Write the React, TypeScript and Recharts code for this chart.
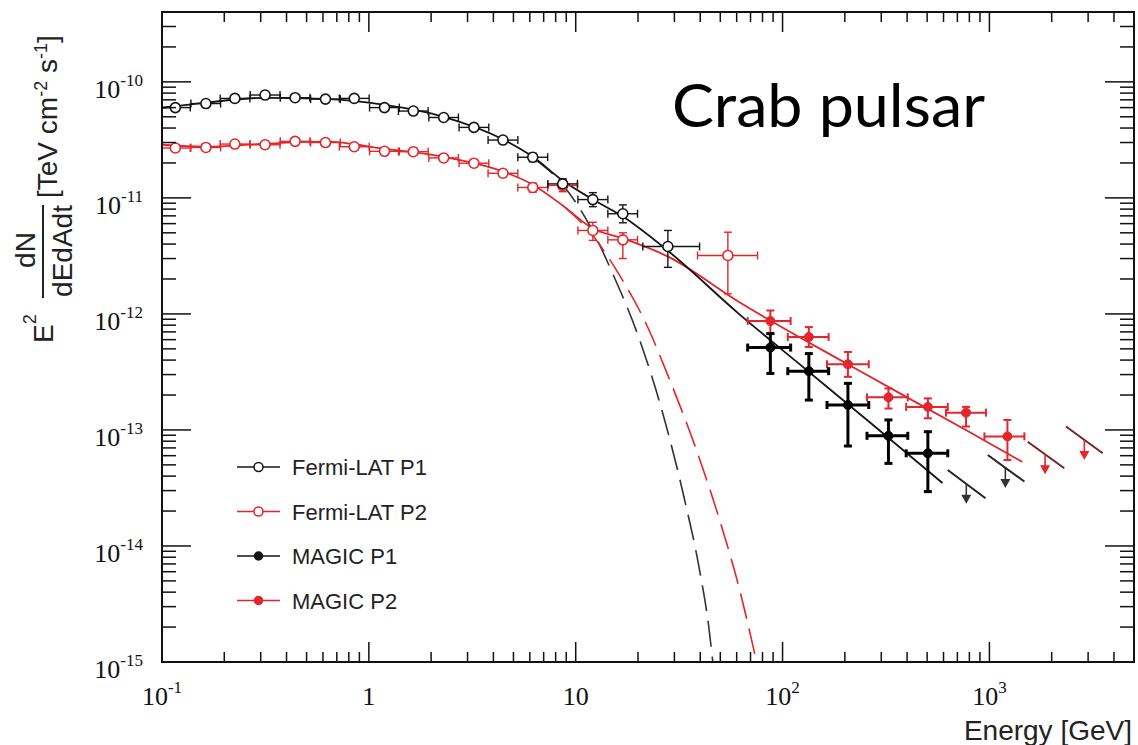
import React from 'react';
import { ComposedChart, XAxis, YAxis, Line, Scatter, ErrorBar } from 'recharts';

const W = 1138;
const H = 745;
const RED = '#e2262b';
const BLACK = '#151515';
const X_DOMAIN: [number, number] = [0.1, 5000];
const Y_DOMAIN: [number, number] = [1e-15, 4e-10];

// ---------- axis ticks ----------
const X_MAJOR = [0.1, 1, 10, 100, 1000];
const X_LABELS: [string, string][] = [['10', '-1'], ['1', ''], ['10', ''], ['10', '2'], ['10', '3']];
const Y_MAJOR = [1e-15, 1e-14, 1e-13, 1e-12, 1e-11, 1e-10];
const Y_LABELS: [string, string][] = [['10', '-15'], ['10', '-14'], ['10', '-13'], ['10', '-12'], ['10', '-11'], ['10', '-10']];
const MINOR_MULT = [2, 3, 4, 5, 6, 7, 8, 9];

// ---------- Fermi-LAT P1 (open black circles) ----------
const fermiP1E = [0.116, 0.163, 0.225, 0.315, 0.44, 0.617, 0.85, 1.19, 1.64, 2.3, 3.22, 4.45, 6.2, 8.65, 12.1, 16.9, 27.9];
const fermiP1Elo = [0.1, 0.138, 0.191, 0.267, 0.373, 0.523, 0.72, 1.008, 1.39, 1.95, 2.73, 3.77, 5.25, 7.33, 10.25, 14.3, 21.1];
const fermiP1Ehi = [0.137, 0.192, 0.266, 0.372, 0.519, 0.728, 1.003, 1.404, 1.935, 2.71, 3.8, 5.25, 7.32, 10.2, 14.3, 19.9, 39.7];
const fermiP1F = [6.0e-11, 6.5e-11, 7.2e-11, 7.7e-11, 7.3e-11, 7.1e-11, 7.2e-11, 6.0e-11, 5.6e-11, 4.93e-11, 4.05e-11, 3.15e-11, 2.24e-11, 1.32e-11, 9.67e-12, 7.3e-12, 3.81e-12];
const fermiP1Flo = [5.8e-11, 6.3e-11, 7.0e-11, 7.5e-11, 7.1e-11, 6.9e-11, 7.0e-11, 5.8e-11, 5.4e-11, 4.7e-11, 3.85e-11, 2.95e-11, 2.05e-11, 1.18e-11, 8.4e-12, 6.1e-12, 2.52e-12];
const fermiP1Fhi = [6.2e-11, 6.7e-11, 7.4e-11, 7.9e-11, 7.5e-11, 7.3e-11, 7.4e-11, 6.2e-11, 5.8e-11, 5.15e-11, 4.25e-11, 3.35e-11, 2.43e-11, 1.46e-11, 1.11e-11, 8.7e-12, 5.24e-12];

// ---------- Fermi-LAT P2 (open red circles) ----------
const fermiP2E = [0.116, 0.163, 0.225, 0.315, 0.44, 0.617, 0.85, 1.19, 1.64, 2.3, 3.22, 4.45, 6.2, 8.65, 12.1, 16.9, 54.4];
const fermiP2Elo = [0.1, 0.138, 0.191, 0.267, 0.373, 0.523, 0.72, 1.008, 1.39, 1.95, 2.73, 3.77, 5.25, 7.33, 10.25, 14.3, 38.8];
const fermiP2Ehi = [0.137, 0.192, 0.266, 0.372, 0.519, 0.728, 1.003, 1.404, 1.935, 2.71, 3.8, 5.25, 7.32, 10.2, 14.3, 19.9, 75.7];
const fermiP2F = [2.69e-11, 2.72e-11, 2.91e-11, 2.87e-11, 3.07e-11, 3.0e-11, 2.76e-11, 2.52e-11, 2.5e-11, 2.21e-11, 1.99e-11, 1.63e-11, 1.23e-11, 1.28e-11, 5.24e-12, 4.35e-12, 3.19e-12];
const fermiP2Flo = [2.6e-11, 2.63e-11, 2.82e-11, 2.78e-11, 2.97e-11, 2.9e-11, 2.66e-11, 2.42e-11, 2.4e-11, 2.1e-11, 1.88e-11, 1.52e-11, 1.12e-11, 1.13e-11, 4.3e-12, 3.0e-12, 1.49e-12];
const fermiP2Fhi = [2.78e-11, 2.81e-11, 3.0e-11, 2.96e-11, 3.17e-11, 3.1e-11, 2.86e-11, 2.62e-11, 2.6e-11, 2.32e-11, 2.1e-11, 1.74e-11, 1.34e-11, 1.43e-11, 6.16e-12, 5.0e-12, 5.06e-12];

// ---------- MAGIC P1 (filled black) ----------
const magicP1E = [87.3, 134, 207, 325, 504];
const magicP1Elo = [67.8, 106, 164, 256, 396];
const magicP1Ehi = [109.4, 167, 261, 403, 629];
const magicP1F = [5.13e-13, 3.21e-13, 1.64e-13, 8.9e-14, 6.29e-14];
const magicP1Flo = [3.07e-13, 1.81e-13, 7.27e-14, 5.15e-14, 2.94e-14];
const magicP1Fhi = [6.77e-13, 4.55e-13, 2.52e-13, 1.22e-13, 9.66e-14];

// ---------- MAGIC P2 (filled red) ----------
const magicP2E = [87.3, 134, 207, 325, 504, 771, 1222];
const magicP2Elo = [67.8, 106, 164, 256, 396, 617, 946];
const magicP2Ehi = [109.4, 167, 261, 403, 629, 962, 1476];
const magicP2F = [8.69e-13, 6.33e-13, 3.68e-13, 1.91e-13, 1.58e-13, 1.41e-13, 8.8e-14];
const magicP2Flo = [6.8e-13, 5.19e-13, 2.87e-13, 1.53e-13, 1.26e-13, 1.07e-13, 5.5e-14];
const magicP2Fhi = [1.07e-12, 7.7e-13, 4.7e-13, 2.28e-13, 1.87e-13, 1.58e-13, 1.22e-13];

// ---------- upper limits: segment ends and arrow anchor ----------
const ulP1SegE = [[629, 957], [982, 1476]];
const ulP1SegF = [[4.52e-14, 2.58e-14], [6.08e-14, 3.59e-14]];
const ulP1ArrowE = [773, 1194];
const ulP1ArrowF = [3.43e-14, 4.71e-14];
const ulP2SegE = [[1531, 2302], [2345, 3530]];
const ulP2SegF = [[7.92e-14, 4.67e-14], [1.07e-13, 6.3e-14]];
const ulP2ArrowE = [1858, 2877];
const ulP2ArrowF = [6.17e-14, 8.18e-14];

// ---------- fitted curves ----------
const fitP1E = [0.1, 0.161, 0.3145, 0.613, 1.195, 2.3, 4.49, 6.2, 8.65, 12.1, 16.9, 27.8, 61.9, 120.8, 263, 593];
const fitP1F = [5.98e-11, 6.6e-11, 7.29e-11, 7.14e-11, 6.34e-11, 5.0e-11, 3.17e-11, 2.26e-11, 1.41e-11, 9.67e-12, 6.9e-12, 3.52e-12, 9.92e-13, 3.69e-13, 1.17e-13, 3.49e-14];
const fitP2E = [0.1, 0.161, 0.3145, 0.613, 1.195, 2.3, 4.49, 6.2, 8.65, 12.1, 16.9, 27.8, 61.9, 210.7, 800.6, 1443];
const fitP2F = [2.87e-11, 2.76e-11, 2.93e-11, 3.05e-11, 2.65e-11, 2.26e-11, 1.68e-11, 1.3e-11, 8.6e-12, 5.44e-12, 4.47e-12, 3.13e-12, 1.26e-12, 3.61e-13, 9.6e-14, 5.3e-14];
const cutP1E = [6.2, 8.65, 11.69, 15.09, 20.4, 26.9, 33.6, 39.7, 44.0, 46.0];
const cutP1F = [2.22e-11, 1.3e-11, 5.78e-12, 2.23e-12, 5.93e-13, 1.22e-13, 2.5e-14, 6.2e-15, 2.0e-15, 1.0e-15];
const cutP2E = [8.65, 12.1, 16.3, 21.5, 28.5, 37.6, 49.6, 62.0, 74.9];
const cutP2F = [8.6e-12, 4.74e-12, 2.15e-12, 8.8e-13, 2.69e-13, 7.4e-14, 1.68e-14, 4.2e-15, 1.0e-15];

// ---------- legend ----------
const LEGEND = [
  { label: 'Fermi-LAT P1', color: BLACK, open: true },
  { label: 'Fermi-LAT P2', color: RED, open: true },
  { label: 'MAGIC P1', color: BLACK, open: false },
  { label: 'MAGIC P2', color: RED, open: false },
];

// ---------- builders ----------
const pts = (E: number[], Elo: number[], Ehi: number[], F: number[], Flo: number[], Fhi: number[]) =>
  E.map((e, i) => ({ x: e, y: F[i], ex: [e - Elo[i], Ehi[i] - e], ey: [F[i] - Flo[i], Fhi[i] - F[i]] }));
const curve = (E: number[], F: number[]) => E.map((x, i) => ({ x, y: F[i] }));

const fermiP1 = pts(fermiP1E, fermiP1Elo, fermiP1Ehi, fermiP1F, fermiP1Flo, fermiP1Fhi);
const fermiP2 = pts(fermiP2E, fermiP2Elo, fermiP2Ehi, fermiP2F, fermiP2Flo, fermiP2Fhi);
const magicP1 = pts(magicP1E, magicP1Elo, magicP1Ehi, magicP1F, magicP1Flo, magicP1Fhi);
const magicP2 = pts(magicP2E, magicP2Elo, magicP2Ehi, magicP2F, magicP2Flo, magicP2Fhi);

const decadeTicks = (majors: number[], max: number) => {
  const out: number[] = [];
  majors.forEach((m) => {
    out.push(m);
    MINOR_MULT.forEach((k) => {
      const v = m * k;
      if (v < max * 0.999) out.push(v);
    });
  });
  return out;
};
const xTicks = decadeTicks(X_MAJOR, X_DOMAIN[1]);
const yTicks = decadeTicks(Y_MAJOR, Y_DOMAIN[1]);

const majorIndex = (majors: number[], v: number) =>
  majors.findIndex((m) => Math.abs(Math.log10(m) - Math.log10(v)) < 1e-6);

const AX = '#111';
const SERIF = '"Liberation Serif", "Times New Roman", serif';
const SANS = '"Liberation Sans", Arial, Helvetica, sans-serif';

const BottomTick = (p: any) => {
  const { x, y, payload } = p;
  const idx = majorIndex(X_MAJOR, payload.value);
  const major = idx >= 0;
  return (
    <g>
      <line x1={x} x2={x} y1={y} y2={y - (major ? 20 : 10)} stroke={AX} strokeWidth={1.5} />
      {major && (
        <text x={x} y={y + 43} textAnchor="middle" fontFamily={SERIF} fontSize={26} fill="#111">
          <tspan>{X_LABELS[idx][0]}</tspan>
          {X_LABELS[idx][1] ? (
            <tspan dy={-12} fontSize={17}>
              {X_LABELS[idx][1]}
            </tspan>
          ) : null}
        </text>
      )}
    </g>
  );
};

const TopTick = (p: any) => {
  const { x, y, payload } = p;
  const major = majorIndex(X_MAJOR, payload.value) >= 0;
  return <line x1={x} x2={x} y1={y} y2={y + (major ? 20 : 10)} stroke={AX} strokeWidth={1.5} />;
};

const LeftTick = (p: any) => {
  const { x, y, payload } = p;
  const idx = majorIndex(Y_MAJOR, payload.value);
  const major = idx >= 0;
  return (
    <g>
      <line x1={x} x2={x + (major ? 29 : 14)} y1={y} y2={y} stroke={AX} strokeWidth={1.5} />
      {major && (
        <text x={x - 19} y={y + 16} textAnchor="end" fontFamily={SERIF} fontSize={26} fill="#111">
          <tspan>{Y_LABELS[idx][0]}</tspan>
          <tspan dy={-12} fontSize={17}>
            {Y_LABELS[idx][1]}
          </tspan>
        </text>
      )}
    </g>
  );
};

const RightTick = (p: any) => {
  const { x, y, payload } = p;
  const major = majorIndex(Y_MAJOR, payload.value) >= 0;
  return <line x1={x} x2={x - (major ? 29 : 14)} y1={y} y2={y} stroke={AX} strokeWidth={1.5} />;
};

const openCircle = (color: string) => (p: any) =>
  <circle cx={p.cx} cy={p.cy} r={5} fill="#fff" stroke={color} strokeWidth={1.6} />;
const filledCircle = (color: string) => (p: any) =>
  <circle cx={p.cx} cy={p.cy} r={4.5} fill={color} stroke={color} strokeWidth={1} />;
const arrowDown = (color: string) => (p: any) => {
  const { cx, cy } = p;
  return (
    <g>
      <line x1={cx} y1={cy} x2={cx} y2={cy + 13} stroke={color} strokeWidth={1.6} />
      <path d={`M${cx - 5},${cy + 11} L${cx + 5},${cy + 11} L${cx},${cy + 20} Z`} fill={color} />
    </g>
  );
};

export default function App() {
  return (
    <div style={{ position: 'absolute', left: 0, top: 0, width: W, height: H, background: '#fff' }}>
      <ComposedChart width={W} height={H} margin={{ top: 11, right: 3, bottom: 0, left: 0 }}>
        <XAxis
          type="number"
          dataKey="x"
          scale="log"
          domain={X_DOMAIN}
          allowDataOverflow
          ticks={xTicks}
          interval={0}
          tick={<BottomTick />}
          tickLine={false}
          tickSize={0}
          tickMargin={0}
          height={83}
          axisLine={{ stroke: AX, strokeWidth: 2 }}
        />
        <XAxis
          xAxisId="top"
          orientation="top"
          type="number"
          dataKey="x"
          scale="log"
          domain={X_DOMAIN}
          allowDataOverflow
          ticks={xTicks}
          interval={0}
          tick={<TopTick />}
          tickLine={false}
          tickSize={0}
          tickMargin={0}
          height={1}
          axisLine={{ stroke: AX, strokeWidth: 2 }}
        />
        <YAxis
          type="number"
          dataKey="y"
          scale="log"
          domain={Y_DOMAIN}
          allowDataOverflow
          ticks={yTicks}
          interval={0}
          tick={<LeftTick />}
          tickLine={false}
          tickSize={0}
          tickMargin={0}
          width={162}
          axisLine={{ stroke: AX, strokeWidth: 2 }}
        />
        <YAxis
          yAxisId="right"
          orientation="right"
          type="number"
          dataKey="y"
          scale="log"
          domain={Y_DOMAIN}
          allowDataOverflow
          ticks={yTicks}
          interval={0}
          tick={<RightTick />}
          tickLine={false}
          tickSize={0}
          tickMargin={0}
          width={1}
          axisLine={{ stroke: AX, strokeWidth: 2 }}
        />

        <Line data={curve(cutP1E, cutP1F)} dataKey="y" type="monotone" stroke="#333" strokeWidth={1.6} strokeDasharray="26 10" dot={false} isAnimationActive={false} />
        <Line data={curve(cutP2E, cutP2F)} dataKey="y" type="monotone" stroke={RED} strokeWidth={1.6} strokeDasharray="26 10" dot={false} isAnimationActive={false} />
        <Line data={curve(fitP2E, fitP2F)} dataKey="y" type="monotone" stroke={RED} strokeWidth={1.8} dot={false} isAnimationActive={false} />
        <Line data={curve(fitP1E, fitP1F)} dataKey="y" type="monotone" stroke={BLACK} strokeWidth={1.8} dot={false} isAnimationActive={false} />

        {ulP1SegE.map((e, i) => (
          <Line key={`u1${i}`} data={curve(e, ulP1SegF[i])} dataKey="y" type="linear" stroke="#222" strokeWidth={2} dot={false} isAnimationActive={false} />
        ))}
        {ulP2SegE.map((e, i) => (
          <Line key={`u2${i}`} data={curve(e, ulP2SegF[i])} dataKey="y" type="linear" stroke="#7a2020" strokeWidth={2} dot={false} isAnimationActive={false} />
        ))}
        <Scatter data={curve(ulP1ArrowE, ulP1ArrowF)} dataKey="y" shape={arrowDown('#333')} isAnimationActive={false} />
        <Scatter data={curve(ulP2ArrowE, ulP2ArrowF)} dataKey="y" shape={arrowDown(RED)} isAnimationActive={false} />

        <Scatter data={fermiP2} dataKey="y" shape={openCircle(RED)} isAnimationActive={false}>
          <ErrorBar dataKey="ex" direction="x" width={4} stroke={RED} strokeWidth={1.4} />
          <ErrorBar dataKey="ey" direction="y" width={4} stroke={RED} strokeWidth={1.4} />
        </Scatter>
        <Scatter data={fermiP1} dataKey="y" shape={openCircle(BLACK)} isAnimationActive={false}>
          <ErrorBar dataKey="ex" direction="x" width={4} stroke={BLACK} strokeWidth={1.4} />
          <ErrorBar dataKey="ey" direction="y" width={4} stroke={BLACK} strokeWidth={1.4} />
        </Scatter>
        <Scatter data={magicP2} dataKey="y" shape={filledCircle(RED)} isAnimationActive={false}>
          <ErrorBar dataKey="ex" direction="x" width={4} stroke={RED} strokeWidth={2} />
          <ErrorBar dataKey="ey" direction="y" width={4} stroke={RED} strokeWidth={2} />
        </Scatter>
        <Scatter data={magicP1} dataKey="y" shape={filledCircle('#000')} isAnimationActive={false}>
          <ErrorBar dataKey="ex" direction="x" width={4} stroke="#000" strokeWidth={3} />
          <ErrorBar dataKey="ey" direction="y" width={4} stroke="#000" strokeWidth={3} />
        </Scatter>
      </ComposedChart>

      <svg width={W} height={H} style={{ position: 'absolute', left: 0, top: 0, pointerEvents: 'none' }}>
        {/* plot frame */}
        <rect x={162} y={12} width={972} height={650} fill="none" stroke={AX} strokeWidth={2} />

        {/* title */}
        <text x={672} y={127} fontFamily="Lato, 'Open Sans', sans-serif" fontSize={60} fill="#000" textLength={313} lengthAdjust="spacingAndGlyphs">
          Crab pulsar
        </text>

        {/* y axis title */}
        <g fontFamily={SANS} fill="#222" fontSize={28}>
          <text transform="translate(57,198) rotate(-90)">
            <tspan>[TeV cm</tspan>
            <tspan dy={-10} fontSize={18}>-2</tspan>
            <tspan dy={10}> s</tspan>
            <tspan dy={-10} fontSize={18}>-1</tspan>
            <tspan dy={10}>]</tspan>
          </text>
          <text transform="translate(35,250) rotate(-90)" textAnchor="middle">dN</text>
          <line x1={43} x2={43} y1={205} y2={298} stroke="#222" strokeWidth={2} />
          <text transform="translate(72,251) rotate(-90)" textAnchor="middle">dEdAdt</text>
          <text transform="translate(53,343) rotate(-90)">
            <tspan>E</tspan>
            <tspan dy={-17} fontSize={18}>2</tspan>
          </text>
        </g>

        {/* x axis title */}
        <text x={1132} y={740} textAnchor="end" fontFamily={SANS} fontSize={28} fill="#222">
          Energy [GeV]
        </text>

        {/* legend */}
        {LEGEND.map((l, i) => {
          const y = 467 + i * 44.5;
          return (
            <g key={l.label}>
              <line x1={237} x2={280} y1={y} y2={y} stroke={l.color} strokeWidth={1.6} />
              <circle cx={258.5} cy={y} r={l.open ? 4.5 : 4} fill={l.open ? '#fff' : l.color} stroke={l.color} strokeWidth={1.5} />
              <text x={292} y={y + 8} fontFamily={SANS} fontSize={22} fill="#222">
                {l.label}
              </text>
            </g>
          );
        })}
      </svg>
    </div>
  );
}
